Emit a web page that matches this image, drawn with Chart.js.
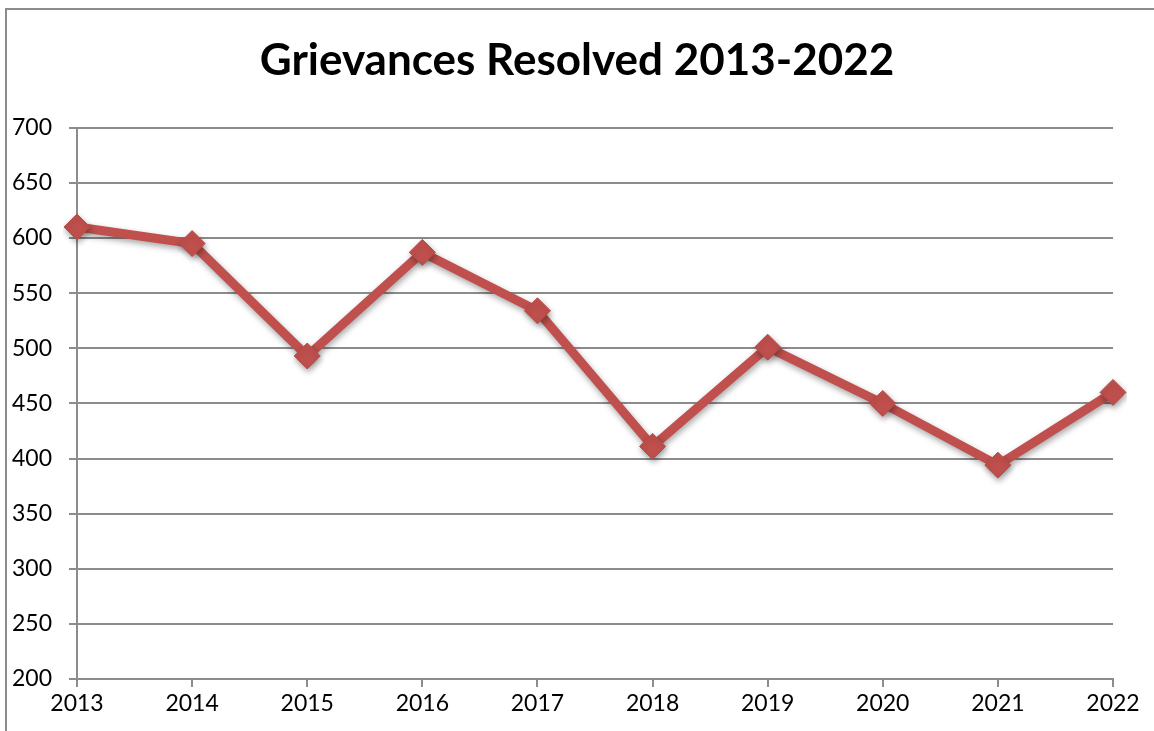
<!DOCTYPE html>
<html>
<head>
<meta charset="utf-8">
<script src="https://cdn.jsdelivr.net/npm/chart.js@4/dist/chart.umd.min.js"></script>
<style>
  html, body { margin: 0; padding: 0; background: #fff; }
  #wrap { width: 1154px; height: 731px; position: relative; }
</style>
</head>
<body>
<div id="wrap"><canvas id="c" width="1154" height="731"></canvas></div>
<script>
const years = ['2013','2014','2015','2016','2017','2018','2019','2020','2021','2022'];
const resolved = [610, 595, 493, 587, 534, 411, 501, 450, 394, 460];
const yMin = 200, yMax = 700, yStep = 50;
const titleText = 'Grievances Resolved 2013-2022';

const frame = {
  id: 'frame',
  beforeDraw(chart) {
    const ctx = chart.ctx;
    ctx.save();
    ctx.strokeStyle = '#8c8c8c';
    ctx.lineWidth = 2;
    ctx.beginPath();
    ctx.moveTo(6, 731);
    ctx.lineTo(6, 9);
    ctx.lineTo(1154, 9);
    ctx.stroke();
    ctx.restore();
  }
};
const shadow = {
  id: 'shadow',
  beforeDatasetsDraw(chart) {
    const ctx = chart.ctx;
    ctx.save();
    ctx.shadowColor = 'rgba(0,0,0,0.35)';
    ctx.shadowBlur = 6;
    ctx.shadowOffsetX = 1;
    ctx.shadowOffsetY = 3;
  },
  afterDatasetsDraw(chart) { chart.ctx.restore(); }
};

new Chart(document.getElementById('c'), {
  type: 'line',
  data: {
    labels: years,
    datasets: [{
      data: resolved,
      borderColor: '#C0504D',
      borderWidth: 9,
      pointStyle: 'rectRot',
      pointRadius: 13,
      pointHoverRadius: 13,
      pointBackgroundColor: '#C0504D',
      pointBorderColor: '#B84B48',
      pointBorderWidth: 1,
      tension: 0
    }]
  },
  options: {
    responsive: false,
    animation: false,
    events: [],
    layout: { padding: { top: 8, left: 0, right: 0, bottom: 0 } },
    plugins: {
      legend: { display: false },
      tooltip: { enabled: false },
      title: {
        display: true,
        text: titleText,
        color: '#000',
        font: { family: 'Lato', weight: 'bold', size: 44 },
        padding: { top: 26, bottom: 41 }
      }
    },
    scales: {
      x: {
        offset: false,
        grid: { display: true, drawOnChartArea: false, drawTicks: true, tickLength: 8, color: '#8c8c8c', lineWidth: 2 },
        border: { display: true, color: '#8c8c8c', width: 2 },
        ticks: { color: '#000', font: { family: 'Lato', size: 23 }, padding: 3, maxRotation: 0, autoSkip: false },
        afterFit(s) { s.height = 52; }
      },
      y: {
        min: yMin, max: yMax,
        grid: { color: '#8c8c8c', lineWidth: 2, tickLength: 8 },
        border: { display: true, color: '#8c8c8c', width: 2 },
        ticks: { stepSize: yStep, color: '#000', font: { family: 'Lato', size: 23 }, padding: 17 },
        afterFit(s) { s.width = 77; }
      },
      yRight: {
        position: 'right',
        display: true,
        min: yMin, max: yMax,
        grid: { display: false, drawOnChartArea: false },
        border: { display: false },
        ticks: { display: false },
        afterFit(s) { s.width = 41; }
      }
    }
  },
  plugins: [frame, shadow]
});
</script>
</body>
</html>
